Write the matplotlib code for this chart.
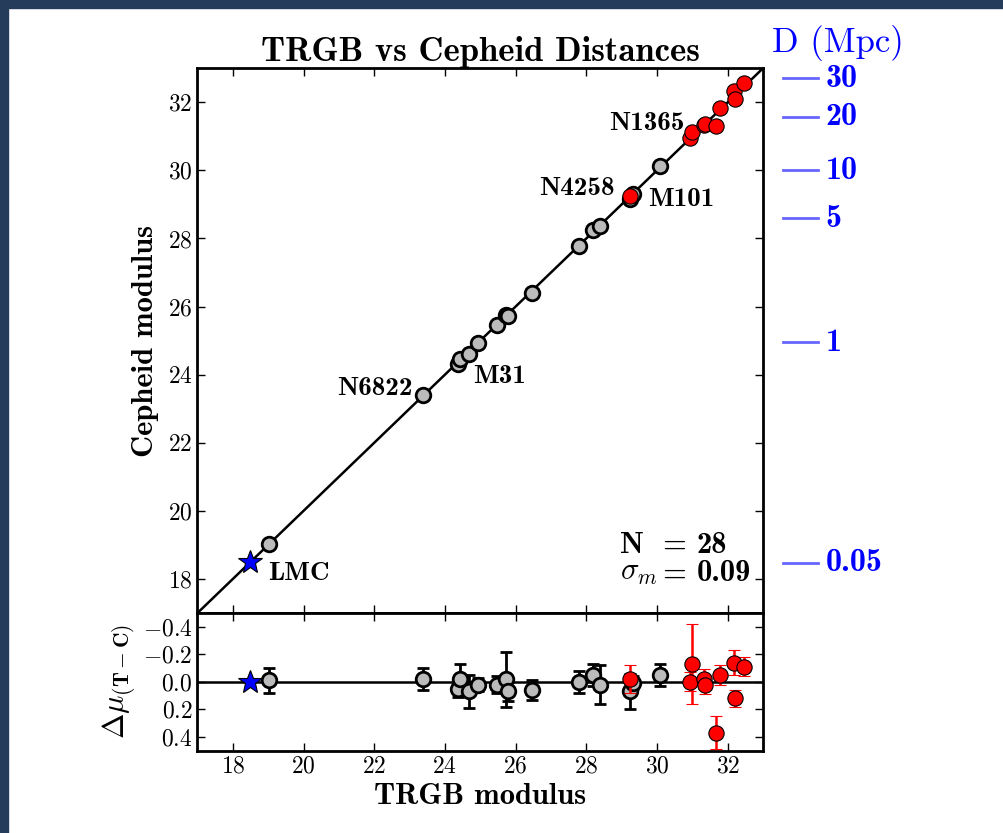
import matplotlib
matplotlib.use("Agg")
import matplotlib.pyplot as plt
from matplotlib.patches import Rectangle

plt.rcParams['font.family'] = 'serif'
plt.rcParams['font.serif'] = ['cmr10', 'DejaVu Serif']
plt.rcParams['mathtext.fontset'] = 'cm'
plt.rcParams['axes.formatter.use_mathtext'] = True

BOLD = ['cmb10', 'DejaVu Serif']

# TRGB modulus, residual (TRGB - Cepheid) and its error, per group
gray_trgb = [19.01, 23.37, 24.36, 24.44, 24.69, 24.95, 25.48, 25.72, 25.78,
             26.45, 27.79, 28.20, 28.39, 29.24, 29.31, 30.09]
gray_dmu = [-0.01, -0.02, 0.05, -0.02, 0.07, 0.02, 0.02, -0.02, 0.07,
            0.06, 0.00, -0.05, 0.02, 0.07, 0.005, -0.05]
gray_err = [0.09, 0.08, 0.06, 0.11, 0.12, 0.05, 0.06, 0.20, 0.07,
            0.075, 0.08, 0.08, 0.14, 0.13, 0.05, 0.08]

red_trgb = [29.24, 30.94, 30.99, 31.32, 31.37, 31.68, 31.77, 32.18, 32.22, 32.46]
red_dmu = [-0.02, 0.00, -0.13, -0.02, 0.02, 0.37, -0.05, -0.14, 0.12, -0.11]
red_err = [0.10, 0.07, 0.29, 0.07, 0.07, 0.12, 0.075, 0.09, 0.06, 0.07]

lmc_trgb = 18.49
lmc_dmu = 0.0

gray_cep = [t - d for t, d in zip(gray_trgb, gray_dmu)]
red_cep = [t - d for t, d in zip(red_trgb, red_dmu)]
lmc_cep = lmc_trgb - lmc_dmu

# galaxy labels: text, x, y, alignment
labels = [('N1365', 30.79, 31.39, 'right'), ('N4258', 28.80, 29.48, 'right'),
          ('M101', 29.74, 29.13, 'left'), ('N6822', 23.09, 23.60, 'right'),
          ('M31', 24.80, 23.95, 'left'), ('LMC', 19.00, 18.16, 'left')]

# distance scale on the right (Mpc) and its modulus position
dist_mpc = ['30', '20', '10', '5', '1', '0.05']
dist_mu = [32.71, 31.57, 30.01, 28.60, 24.95, 18.48]

fig = plt.figure(figsize=(10.04, 8.33), dpi=100)
fig.patches.append(Rectangle((0, 1 - 8 / 833), 1, 8 / 833, transform=fig.transFigure,
                             color='#253c5a', zorder=0))
fig.patches.append(Rectangle((0, 0), 8 / 1004, 1, transform=fig.transFigure,
                             color='#253c5a', zorder=0))

ax = fig.add_axes([0.1967, 0.2641, 0.5633, 0.654])
ax2 = fig.add_axes([0.1967, 0.0988, 0.5633, 0.1653], sharex=ax)

for a in (ax, ax2):
    a.tick_params(direction='in', length=6, width=1, top=True, right=True, labelsize=17)
    for s in a.spines.values():
        s.set_linewidth(2)

# main panel
ax.plot([17, 33], [17, 33], color='k', lw=1.8, zorder=1)
ax.plot(gray_trgb, gray_cep, 'o', ms=10.5, mfc='#bbbbbb', mec='k', mew=2, zorder=3)
ax.plot(red_trgb, red_cep, 'o', ms=11, mfc='red', mec='k', mew=0.8, zorder=4)
ax.plot(lmc_trgb, lmc_cep, '*', ms=18, mfc='blue', mec='k', mew=0.8, zorder=5)
ax.set_xlim(17, 33)
ax.set_ylim(17, 33)
ax.set_xticks(range(18, 33, 2))
ax.set_yticks(range(18, 33, 2))
ax.tick_params(labelbottom=False)
ax.set_ylabel('Cepheid modulus', family=BOLD, fontsize=22, labelpad=6)
ax.set_title('TRGB vs Cepheid Distances', family=BOLD, fontsize=25, pad=5)

for txt, x, y, ha in labels:
    ax.text(x, y, txt, family=BOLD, fontsize=19.5, ha=ha, va='center')

# N and sigma block
ax.text(0.747, 0.124, 'N', family=BOLD, transform=ax.transAxes,
        fontsize=22, ha='left', va='center')
ax.text(0.747, 0.072, r'$\sigma_m$', transform=ax.transAxes,
        fontsize=22, ha='left', va='center')
for yy, val in [(0.124, '28'), (0.072, '0.09')]:
    ax.text(0.822, yy, '=', family=BOLD, transform=ax.transAxes,
            fontsize=22, ha='left', va='center')
    ax.text(0.882, yy, val, family=BOLD, transform=ax.transAxes,
            fontsize=22, ha='left', va='center')

# distance scale
tr = ax.get_yaxis_transform()
for lab, mu in zip(dist_mpc, dist_mu):
    ax.plot([1.035, 1.097], [mu, mu], color='blue', alpha=0.6, lw=2,
            transform=tr, clip_on=False)
    ax.text(1.111, mu, lab, family=BOLD, color='blue', fontsize=23,
            transform=tr, ha='left', va='center')
ax.text(1.015, 1.047, 'D (Mpc)', color='blue', fontsize=25,
        transform=ax.transAxes, ha='left', va='center')

# residual panel
ax2.axhline(0, color='k', lw=1.8, zorder=1)
ax2.errorbar(gray_trgb, gray_dmu, yerr=gray_err, fmt='o', ms=10.5, mfc='#bbbbbb',
             mec='k', mew=2, ecolor='k', elinewidth=2, capsize=4, capthick=1.5, zorder=3)
ax2.errorbar(red_trgb, red_dmu, yerr=red_err, fmt='o', ms=11, mfc='red',
             mec='k', mew=0.8, ecolor='red', elinewidth=1.8, capsize=4, capthick=1.5, zorder=4)
ax2.plot(lmc_trgb, lmc_dmu, '*', ms=18, mfc='blue', mec='k', mew=0.8, zorder=5)
ax2.set_ylim(0.5, -0.5)
ax2.set_yticks([-0.4, -0.2, 0.0, 0.2, 0.4])
ax2.set_yticklabels(['$-0.4$', '$-0.2$', '$0.0$', '$0.2$', '$0.4$'])
ax2.set_xticks(range(18, 33, 2))
ax2.set_ylabel(r'$\boldsymbol{\Delta}\mu_{(\mathbf{T-C})}$', fontsize=22, labelpad=4)
ax2.set_xlabel('TRGB modulus', family=BOLD, fontsize=22, labelpad=4)

fig.savefig('out.png', dpi=100)
